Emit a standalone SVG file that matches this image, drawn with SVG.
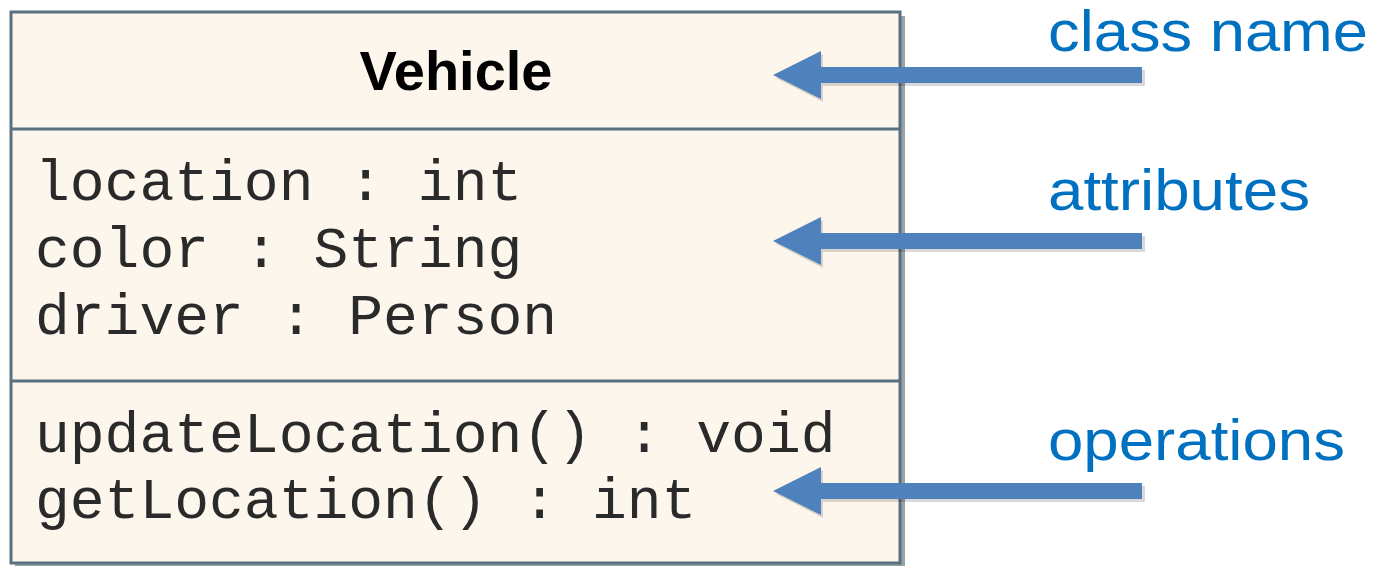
<svg xmlns="http://www.w3.org/2000/svg" width="1377" height="567" viewBox="0 0 1377 567">
<defs>
<style>
.box{fill:#FDF6EC;stroke:#587080;stroke-width:3}
.div{stroke:#587080;stroke-width:3}
.shadow{fill:#6E7A80;opacity:0.7}
.title{font-family:"Liberation Sans",Arial,sans-serif;font-weight:bold;font-size:56px;fill:#000}
.mono{font-family:"Liberation Mono","Courier New",monospace;font-size:58px;fill:#2a2a2a}
.lbl{font-family:"Liberation Sans",Arial,sans-serif;font-size:57px;fill:#0070C0}
.arrow{fill:#4F81BD}
.ashadow{fill:#000;opacity:0.15}
</style>
</defs>
<g id="vehicle-class">
<rect class="shadow" x="15" y="16" width="890" height="550"/>
<rect class="box" x="11" y="12" width="889" height="551"/>
<line class="div" x1="11" y1="129" x2="900" y2="129"/>
<line class="div" x1="11" y1="381" x2="900" y2="381"/>
<text class="title" x="456" y="90" text-anchor="middle">Vehicle</text>
<text class="mono" x="35" y="200">location : int</text>
<text class="mono" x="35" y="267">color : String</text>
<text class="mono" x="35" y="334">driver : Person</text>
<text class="mono" x="35" y="452">updateLocation() : void</text>
<text class="mono" x="35" y="518">getLocation() : int</text>
</g>
<g id="label-classname"><text class="lbl" x="1048" y="51" textLength="320" lengthAdjust="spacingAndGlyphs">class name</text></g>
<g id="label-attributes"><text class="lbl" x="1048" y="210" textLength="262" lengthAdjust="spacingAndGlyphs">attributes</text></g>
<g id="label-operations"><text class="lbl" x="1048" y="460" textLength="297" lengthAdjust="spacingAndGlyphs">operations</text></g>
<g id="connectors">
<path class="ashadow" d="M776,78 L823,54 L823,70 L1145,70 L1145,86 L823,86 L823,102 Z"/>
<path class="arrow" d="M773,75 L821,51 L821,67 L1142,67 L1142,83 L821,83 L821,99 Z"/>
<path class="ashadow" d="M776,244 L823,220 L823,236 L1145,236 L1145,252 L823,252 L823,268 Z"/>
<path class="arrow" d="M773,241 L821,217 L821,233 L1142,233 L1142,249 L821,249 L821,265 Z"/>
<path class="ashadow" d="M776,494 L823,470 L823,486 L1145,486 L1145,502 L823,502 L823,518 Z"/>
<path class="arrow" d="M773,491 L821,467 L821,483 L1142,483 L1142,499 L821,499 L821,515 Z"/>
</g>
</svg>
